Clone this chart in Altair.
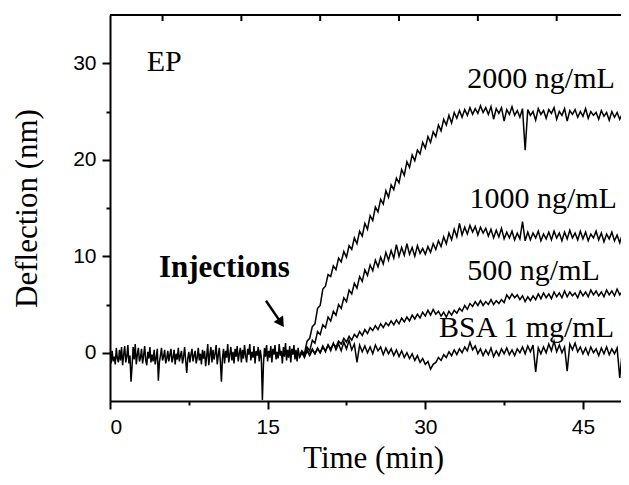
import altair as alt
import pandas as pd

# ---- data ----
# shared pre-injection baseline, 0 .. 18 min every 0.1 min
base_start, base_step = 0.0, 0.1
baseline = [
    -0.3, -1.1, 0.2, -0.9, -0.4, -1.2, 0.5, -0.6, -1.0, 0.3,
    -0.8, 0.6, -1.3, -0.2, 0.7, -1.0, -0.4, 0.8, -1.1, -0.3,
    -3.0, -1.4, 0.6, -0.7, 0.9, -1.2, -0.2, 0.5, -0.9, -0.5,
    0.4, -1.1, -0.3, 0.7, -0.8, -1.3, 0.1, -0.6, 0.6, -1.0,
    -0.2, -0.9, 0.3, -1.2, -0.5, 0.4, -2.9, -1.0, -0.3, 0.5,
    -0.8, -0.4, 0.3, -1.1, -0.6, 0.2, -0.9, -0.2, 0.4, -1.0,
    -0.5, 0.3, -1.2, -0.1, -0.7, 0.5, -0.9, -0.3, 0.2, -1.1,
    -0.4, 0.6, -0.8, -2.1, -0.6, 0.1, -1.0, -0.2, 0.4, -0.9,
    -0.3, 0.2, -1.1, -0.5, 0.5, -0.8, -0.1, -1.2, 0.3, -0.6,
    0.2, -1.4, -0.4, 0.9, -1.3, -0.2, 0.6, -1.0, 0.3, -0.7,
    -0.1, 0.8, -1.2, -0.3, 0.5, -0.9, -3.0, -0.6, 0.4, -1.1,
    0.2, -0.5, 0.9, -1.0, -0.2, 0.6, -0.8, 0.1, -1.1, 0.4,
    -0.4, 0.7, -0.9, -0.1, 0.5, -1.0, 0.3, -0.6, 0.8, -0.3,
    -1.0, 0.4, -0.2, 0.9, -0.8, 0.1, -0.5, 0.7, -1.1, 0.2,
    -0.3, 0.6, -0.9, 0.3, -0.6, -4.9, -1.2, 0.5, -0.4, 0.8,
    -0.9, 0.2, -0.5, 0.7, -1.0, 0.4, -0.2, 0.8, -0.7, 0.1,
    -0.6, 0.9, -0.3, 0.2, -1.1, 0.6, -0.4, 1.0, -0.8, 0.3,
    -0.5, 0.7, -1.0, 0.4, -0.2, 0.8, -0.7, 0.3, -0.9, 0.5,
    -0.3,
]

# post-injection traces, 18 .. 49.5 min every 0.25 min
series_start, series_step = 18.0, 0.25
c2000 = [
    -0.4, 0.2, -0.1, 1.2,
    1.5, 2.7, 3.0, 4.6,
    4.9, 6.6, 6.9, 8.1,
    7.9, 9.0, 8.6, 9.8,
    9.4, 10.5, 9.9, 11.1,
    10.7, 11.9, 11.3, 12.6,
    12.1, 13.4, 12.8, 14.2,
    13.7, 15.1, 14.6, 15.9,
    15.4, 16.8, 16.1, 17.4,
    16.9, 18.1, 17.6, 19.0,
    18.4, 19.8, 19.2, 20.5,
    19.9, 21.0, 20.6, 21.8,
    21.2, 22.4, 21.8, 22.9,
    22.4, 23.6, 23.0, 24.2,
    23.6, 24.6, 23.8, 24.9,
    24.3, 25.1, 24.4, 25.2,
    24.6, 25.4, 24.7, 25.3,
    24.8, 25.6, 24.9, 25.4,
    24.7, 25.5, 24.2, 25.3,
    24.8, 25.4, 24.0, 25.2,
    24.7, 25.5, 24.6, 25.1,
    24.4, 25.3, 21.0, 25.2,
    24.6, 25.0, 24.1, 25.3,
    24.7, 25.1, 24.3, 25.2,
    24.8, 25.4, 24.2, 25.0,
    24.6, 25.3, 24.0, 25.1,
    24.7, 25.2, 24.4, 25.0,
    24.5, 25.3, 24.3, 25.0,
    24.6, 24.9, 24.2, 25.1,
    24.5, 24.9, 24.1, 25.0,
    24.4, 24.9, 24.2, 24.8,
    24.4, 24.9, 24.3,
]
c1000 = [
    -0.5, 0.1, -0.3, 0.6,
    0.2, 1.3, 1.0, 2.2,
    1.9, 2.9, 2.6, 3.7,
    3.3, 4.3, 3.9, 5.0,
    4.6, 5.7, 5.3, 6.5,
    6.1, 7.2, 6.7, 7.9,
    7.4, 8.6, 8.0, 9.1,
    8.5, 9.6, 8.9, 9.9,
    9.2, 10.4, 9.6, 10.6,
    9.8, 11.2, 10.0, 10.9,
    10.1, 11.3, 10.2, 10.9,
    10.0, 11.1, 10.3, 10.8,
    10.2, 11.0, 10.4, 11.3,
    10.7, 11.6, 11.0, 12.0,
    11.3, 12.4, 11.7, 12.8,
    12.0, 13.4, 12.2, 13.0,
    12.3, 13.2, 12.5, 13.1,
    12.2, 13.0, 12.4, 12.9,
    12.1, 12.8, 11.9, 12.7,
    12.0, 12.9, 11.8, 12.5,
    11.9, 12.6, 11.7, 12.4,
    11.8, 13.6, 11.6, 12.5,
    11.7, 12.4, 11.9, 12.6,
    11.6, 12.3, 11.8, 12.5,
    11.7, 12.6, 11.9, 12.4,
    11.6, 12.5, 11.8, 12.7,
    11.9, 12.4, 11.7, 12.6,
    11.8, 12.5, 11.6, 12.3,
    11.9, 12.6, 11.7, 12.4,
    11.5, 12.3, 11.8, 12.5,
    11.6, 12.2, 11.4, 12.3,
    11.7, 12.1, 11.5,
]
c500 = [
    -0.6, 0.0, -0.4, 0.2,
    -0.3, 0.3, -0.1, 0.4,
    0.0, 0.6, 0.2, 0.8,
    0.4, 0.9, 0.6, 1.2,
    0.9, 1.5, 1.1, 1.7,
    1.3, 1.9, 1.6, 2.2,
    1.8, 2.4, 2.0, 2.6,
    2.3, 2.8, 2.4, 3.0,
    2.6, 3.1, 2.8, 3.3,
    2.9, 3.4, 3.0, 3.6,
    3.2, 3.7, 3.3, 3.9,
    3.5, 4.0, 3.6, 4.2,
    3.8, 4.4, 3.9, 4.5,
    4.0, 4.3, 3.8, 4.2,
    3.7, 4.3, 3.9, 4.4,
    4.1, 4.6, 4.3, 4.9,
    4.5, 5.1, 4.8, 5.3,
    4.9, 5.4, 4.9, 5.3,
    5.0, 5.5, 5.0, 5.4,
    5.1, 5.5, 5.2, 6.0,
    5.6, 6.1, 5.7, 6.0,
    5.5, 5.9, 5.3, 5.8,
    5.4, 5.9, 5.5, 6.1,
    5.6, 6.2, 5.7, 6.1,
    5.6, 6.3, 5.8, 6.2,
    5.7, 6.4, 5.8, 6.3,
    5.9, 6.2, 5.7, 6.4,
    5.9, 6.3, 5.8, 6.5,
    6.0, 6.4, 5.9, 6.3,
    5.8, 6.5, 6.0, 6.4,
    5.9, 6.6, 6.0, 6.4,
    5.9, 6.3, 5.8,
]
bsa = [
    -0.4, 0.1, -0.5, 0.3,
    -0.2, 0.4, -0.1, 0.5,
    0.0, 0.7, 0.1, 0.8,
    0.2, 1.0, 0.3, 0.9,
    0.2, 1.1, 0.4, 1.3,
    0.3, 0.9, -1.0, 0.8,
    0.1, 0.7, 0.0, 0.6,
    -0.1, 0.8, 0.2, 0.6,
    -0.2, 0.5, -0.1, 0.4,
    -0.3, 0.3, -0.4, 0.2,
    -0.5, 0.0, -0.6, -0.1,
    -0.8, -0.3, -1.0, -0.6,
    -1.2, -0.9, -1.7, -1.2,
    -1.0, -0.5, -0.8, -0.2,
    -0.5, 0.1, -0.3, 0.3,
    -0.2, 0.4, 0.0, 0.6,
    0.2, 1.1, 0.3, 0.7,
    -0.1, 0.4, -0.3, 0.3,
    -0.2, 0.5, -0.4, 0.2,
    -0.3, 0.4, -0.1, 0.5,
    -0.2, 0.3, -0.3, 0.4,
    0.0, 0.6, -0.1, 0.7,
    0.1, 0.8, -2.0, 0.5,
    -0.1, 0.6, 0.0, 0.9,
    0.2, 1.2, 0.1, 0.8,
    0.0, 0.6, -1.9, 0.9,
    0.3, 1.0, 0.1, 0.6,
    -0.1, 0.5, -0.2, 0.6,
    0.0, 0.4, -0.3, 0.5,
    -0.1, 0.6, -0.2, 0.4,
    -0.1, 0.5, -2.6, 0.3,
    -0.2, 0.4, -0.1,
]

series_names = ["2000 ng/mL", "1000 ng/mL", "500 ng/mL", "BSA 1 mg/mL"]
series_values = [c2000, c1000, c500, bsa]

# text labels placed in data units (time, deflection)
label_text = ["EP", "2000 ng/mL", "1000 ng/mL", "500 ng/mL", "BSA 1 mg/mL"]
label_t = [3.5, 34.0, 34.2, 34.0, 31.3]
label_y = [29.2, 27.4, 15.0, 7.5, 1.65]

inj_text = "Injections"
inj_t, inj_y = 4.66, 7.9
arrow_tail = (14.84, 5.38)
arrow_head = (16.28, 3.10)

top_tick_t = [5, 12.5, 20, 27.5, 35, 42.5]

X_MAX = 48.62   # the figure is cropped before the right frame
W, H = 511, 386

# ---- build tables ----
rows = []
for i, v in enumerate(baseline):
    rows.append({"t": base_start + i * base_step, "y": v, "s": "baseline"})
for name, vals in zip(series_names, series_values):
    for i, v in enumerate(vals):
        rows.append({"t": series_start + i * series_step, "y": v, "s": name})
df = pd.DataFrame(rows)

xscale = alt.Scale(domain=[0, X_MAX], nice=False, zero=False)
yscale = alt.Scale(domain=[-5, 35], nice=False, zero=False)

x_axis = alt.Axis(
    values=[0, 7.5, 15, 22.5, 30, 37.5, 45],
    labelExpr="datum.value % 15 == 0 ? datum.label : ''",
    tickSize={"condition": {"test": "datum.value % 15 != 0", "value": 4}, "value": 8},
    title="Time (min)", titleFontSize=31, labelPadding=7,
    titleX=263, titleY=66, titleBaseline="alphabetic", titleAlign="center",
)
y_axis = alt.Axis(
    values=[0, 5, 10, 15, 20, 25, 30],
    labelExpr="datum.value % 10 == 0 ? datum.label : ''",
    tickSize={"condition": {"test": "datum.value % 10 != 0", "value": 4}, "value": 8},
    title="Deflection (nm)", titleFontSize=31, labelPadding=6,
    titleX=-74, titleY=H / 2, titleBaseline="alphabetic", titleAlign="center", titleAngle=270,
)

lines = alt.Chart(df).mark_line(color="black", strokeWidth=1.5, clip=True).encode(
    x=alt.X("t:Q", scale=xscale, axis=x_axis),
    y=alt.Y("y:Q", scale=yscale, axis=y_axis),
    detail="s:N",
)

lab_df = pd.DataFrame({"t": label_t, "y": label_y, "text": label_text})
labels = alt.Chart(lab_df).mark_text(
    font="Liberation Serif", fontSize=30, align="left", baseline="alphabetic", color="black"
).encode(x=alt.X("t:Q", scale=xscale), y=alt.Y("y:Q", scale=yscale), text="text:N")

inj = alt.Chart(pd.DataFrame({"t": [inj_t], "y": [inj_y], "text": [inj_text]})).mark_text(
    font="Liberation Serif", fontSize=31, fontWeight="bold", align="left",
    baseline="alphabetic", color="black"
).encode(x=alt.X("t:Q", scale=xscale), y=alt.Y("y:Q", scale=yscale), text="text:N")

arrow_df = pd.DataFrame({"t": [arrow_tail[0]], "y": [arrow_tail[1]],
                         "t2": [arrow_head[0]], "y2": [arrow_head[1]]})
arrow_line = alt.Chart(arrow_df).mark_rule(color="black", strokeWidth=2.5).encode(
    x=alt.X("t:Q", scale=xscale), y=alt.Y("y:Q", scale=yscale), x2="t2:Q", y2="y2:Q"
)
arrow_tip = alt.Chart(arrow_df).mark_point(
    shape="triangle-up", filled=True, color="black", size=130, angle=146, opacity=1
).encode(x=alt.X("t2:Q", scale=xscale), y=alt.Y("y2:Q", scale=yscale))

top_frame = alt.Chart(pd.DataFrame({"t": [0]})).mark_rule(color="black", strokeWidth=2).encode(
    x=alt.value(0), x2=alt.value(W), y=alt.value(0)
)
top_ticks = alt.Chart(pd.DataFrame({"t": top_tick_t})).mark_rule(color="black", strokeWidth=2).encode(
    x=alt.X("t:Q", scale=xscale), y=alt.value(0), y2=alt.value(6)
)

chart = alt.layer(lines, labels, inj, arrow_line, arrow_tip, top_frame, top_ticks).properties(
    width=W, height=H,
    autosize=alt.AutoSizeParams(type="none"),
    padding={"left": 102, "top": 7, "right": 0, "bottom": 74},
).configure_view(stroke=None).configure_axis(
    grid=False, domainColor="black", domainWidth=2, tickColor="black", tickWidth=2,
    labelFont="Liberation Sans", labelFontSize=21, labelColor="black",
    titleFont="Liberation Serif", titleFontWeight="normal", titleColor="black",
)

chart.save("out.html", embed_options={"renderer": "svg", "actions": False})
